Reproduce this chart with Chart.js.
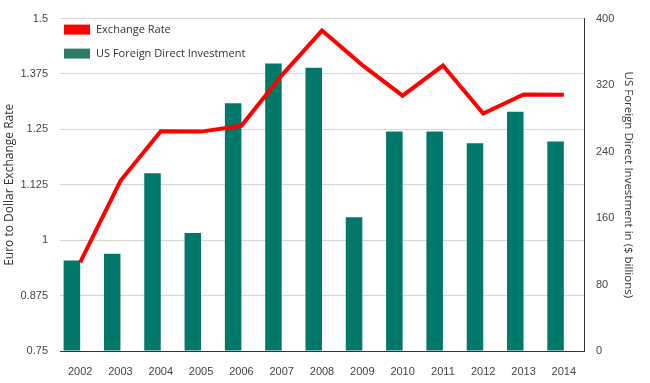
<!DOCTYPE html>
<html>
<head>
<meta charset="utf-8">
<script src="https://cdn.jsdelivr.net/npm/chart.js@4"></script>
<style>
    html, body { margin: 0; padding: 0; background: #fff; }
</style>
</head>
<body>
<canvas id="fdiChart" width="650" height="383"></canvas>
<script>
const years = ['2002', '2003', '2004', '2005', '2006', '2007', '2008', '2009', '2010', '2011', '2012', '2013', '2014'];
const fdiValues = [109, 117, 214, 142, 298, 346, 341, 161, 264, 264, 250, 288, 252];
const rateValues = [0.95, 1.134, 1.246, 1.245, 1.258, 1.372, 1.473, 1.395, 1.326, 1.394, 1.286, 1.329, 1.328];
const rateTicks = [0.75, 0.875, 1, 1.125, 1.25, 1.375, 1.5];
const fdiTicks = [0, 80, 160, 240, 320, 400];

const tickFont = { family: 'Liberation Sans, Arial, sans-serif', size: 11 };

// legend drawn inside the plot, top left
const insideLegend = {
    id: 'insideLegend',
    afterDraw(chart) {
        const ctx = chart.ctx;
        const area = chart.chartArea;
        const items = chart.data.datasets.filter(d => d.label);
        ctx.save();
        ctx.font = '11px "Open Sans", sans-serif';
        ctx.textBaseline = 'middle';
        items.forEach((d, i) => {
            const y = area.top + 6 + i * 24;
            ctx.fillStyle = d.legendColor;
            ctx.fillRect(area.left + 4, y, 26, 10);
            ctx.fillStyle = '#333';
            ctx.fillText(d.label, area.left + 36, y + 5);
        });
        ctx.restore();
    }
};

const ctx = document.getElementById('fdiChart').getContext('2d');
const fdiChart = new Chart(ctx, {
    type: 'bar',
    data: {
        labels: years,
        datasets: [{
            type: 'line',
            label: 'Exchange Rate',
            data: rateValues,
            yAxisID: 'yRate',
            borderColor: '#ff0000',
            legendColor: '#ff0000',
            borderWidth: 4,
            borderJoinStyle: 'miter',
            pointRadius: 0,
            tension: 0
        }, {
            label: 'US Foreign Direct Investment',
            data: fdiValues,
            yAxisID: 'yFdi',
            backgroundColor: '#00796B',
            legendColor: '#2E7D6B',
            categoryPercentage: 0.82,
            barPercentage: 1
        }, {
            // empty slot so the bar sits left of the year
            data: years.map(() => null),
            yAxisID: 'yFdi',
            categoryPercentage: 0.82,
            barPercentage: 1
        }]
    },
    options: {
        responsive: false,
        animation: false,
        layout: { padding: { top: 17, left: 0, right: 0, bottom: 0 } },
        plugins: {
            legend: { display: false },
            tooltip: { enabled: false }
        },
        scales: {
            x: {
                grid: { display: false },
                border: { display: true, color: '#333' },
                ticks: { color: '#444', font: tickFont, padding: 6, maxRotation: 0 },
                afterFit: s => { s.height = 32; }
            },
            yRate: {
                position: 'left',
                min: 0.75,
                max: 1.5,
                afterBuildTicks: s => { s.ticks = rateTicks.map(v => ({ value: v })); },
                ticks: { color: '#444', font: tickFont, padding: 12, callback: v => String(v) },
                grid: { color: '#d4d4d4', drawTicks: false },
                border: { display: false },
                title: {
                    display: true,
                    text: 'Euro to Dollar Exchange Rate',
                    color: '#333',
                    font: { family: 'Open Sans, sans-serif', size: 12 },
                    padding: { top: 2, bottom: 0 }
                },
                afterFit: s => { s.width = 60; }
            },
            yFdi: {
                position: 'right',
                min: 0,
                max: 400,
                afterBuildTicks: s => { s.ticks = fdiTicks.map(v => ({ value: v })); },
                ticks: { color: '#444', font: tickFont, padding: 12 },
                grid: { drawOnChartArea: false, drawTicks: false },
                border: { display: true, color: '#333' },
                title: {
                    display: true,
                    text: 'US Foreign Direct Investment in ($ billions)',
                    color: '#333',
                    font: { family: 'Open Sans, sans-serif', size: 11.5 },
                    padding: { top: 15, bottom: 0 }
                },
                afterFit: s => { s.width = 66; }
            }
        }
    },
    plugins: [insideLegend]
});
</script>
</body>
</html>
